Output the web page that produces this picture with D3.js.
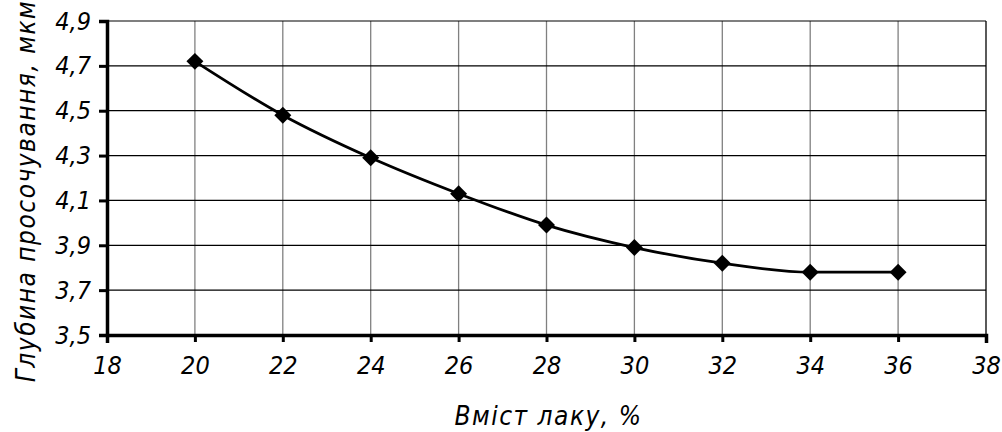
<!DOCTYPE html>
<html>
<head>
<meta charset="utf-8">
<script src="https://cdn.jsdelivr.net/npm/d3@7"></script>
<style>
  body { margin: 0; background: #fff; }
  text { font-family: "DejaVu Sans Condensed", "DejaVu Sans", sans-serif; font-style: italic; fill: #000; }
</style>
</head>
<body>
<div id="container"></div>
<script>
let w = 1002;
let h = 432;

// data
let lacquer = [20, 22, 24, 26, 28, 30, 32, 34, 36];
let depth = [4.72, 4.48, 4.29, 4.13, 3.99, 3.89, 3.82, 3.78, 3.78];
let xTicks = [18, 20, 22, 24, 26, 28, 30, 32, 34, 36, 38];
let yTicks = [3.5, 3.7, 3.9, 4.1, 4.3, 4.5, 4.7, 4.9];
let xTitle = "Вміст лаку, %";
let yTitle = "Глубина просочування, мкм";

let padLeft = 107, padRight = 986, padTop = 21, padBottom = 335;

let viz = d3.select("#container")
  .append("svg")
    .attr("width", w)
    .attr("height", h)
    .style("background-color", "white")
;

let xScale = d3.scaleLinear().domain([18, 38]).range([padLeft, padRight]);
let yScale = d3.scaleLinear().domain([3.5, 4.9]).range([padBottom, padTop]);

let fmt = d => d3.format(".1f")(d).replace(".", ",");

// vertical grid (grey)
viz.selectAll(".vgrid").data(xTicks.slice(1, -1)).enter()
  .append("line")
    .attr("x1", d => xScale(d)).attr("x2", d => xScale(d))
    .attr("y1", padTop).attr("y2", padBottom)
    .attr("stroke", "#808080")
    .attr("stroke-width", 1.3)
;

// horizontal grid (black)
viz.selectAll(".hgrid").data(yTicks.slice(1)).enter()
  .append("line")
    .attr("x1", padLeft).attr("x2", padRight)
    .attr("y1", d => yScale(d)).attr("y2", d => yScale(d))
    .attr("stroke", "#000")
    .attr("stroke-width", 1.2)
;

// right border
viz.append("line")
  .attr("x1", padRight).attr("x2", padRight)
  .attr("y1", padTop).attr("y2", padBottom)
  .attr("stroke", "#000").attr("stroke-width", 1.3);

// axes
let xAxis = d3.axisBottom(xScale).tickValues(xTicks).tickSize(8).tickPadding(13);
let yAxis = d3.axisLeft(yScale).tickValues(yTicks).tickSize(8).tickPadding(8).tickFormat(fmt);

let gx = viz.append("g").attr("transform", "translate(0," + padBottom + ")").call(xAxis);
let gy = viz.append("g").attr("transform", "translate(" + padLeft + ",0)").call(yAxis);

[gx, gy].forEach(g => {
  g.select(".domain").attr("stroke-width", 3.5).attr("stroke", "#000");
  g.selectAll(".tick line").attr("stroke-width", 3).attr("stroke", "#000");
  g.selectAll(".tick text")
    .attr("font-size", 25)
    .attr("font-family", null)
    .style("font-style", "italic");
});
gx.selectAll(".tick line").attr("y1", 0).attr("y2", 7);
gy.selectAll(".tick line").attr("x1", 0).attr("x2", -8);

// line
let line = d3.line()
  .x((d, i) => xScale(lacquer[i]))
  .y(d => yScale(d))
  .curve(d3.curveMonotoneX);

viz.append("path")
  .datum(depth)
  .attr("d", line)
  .attr("fill", "none")
  .attr("stroke", "#000")
  .attr("stroke-width", 2.8)
;

// markers
let diamond = d3.symbol().type(d3.symbolSquare).size(144);
viz.selectAll(".marker").data(depth).enter()
  .append("path")
    .attr("d", diamond)
    .attr("transform", (d, i) => "translate(" + xScale(lacquer[i]) + "," + yScale(d) + ") rotate(45)")
    .attr("fill", "#000")
;

// titles
viz.append("text")
  .text(xTitle)
  .attr("x", (padLeft + padRight) / 2 + 2)
  .attr("y", 425)
  .attr("text-anchor", "middle")
  .attr("font-size", 26)
  .style("letter-spacing", "1.5px")
;

viz.append("text")
  .text(yTitle)
  .attr("transform", "translate(35," + 191 + ") rotate(-90)")
  .attr("text-anchor", "middle")
  .attr("font-size", 26)
  .style("letter-spacing", "1.5px")
;
</script>
</body>
</html>
